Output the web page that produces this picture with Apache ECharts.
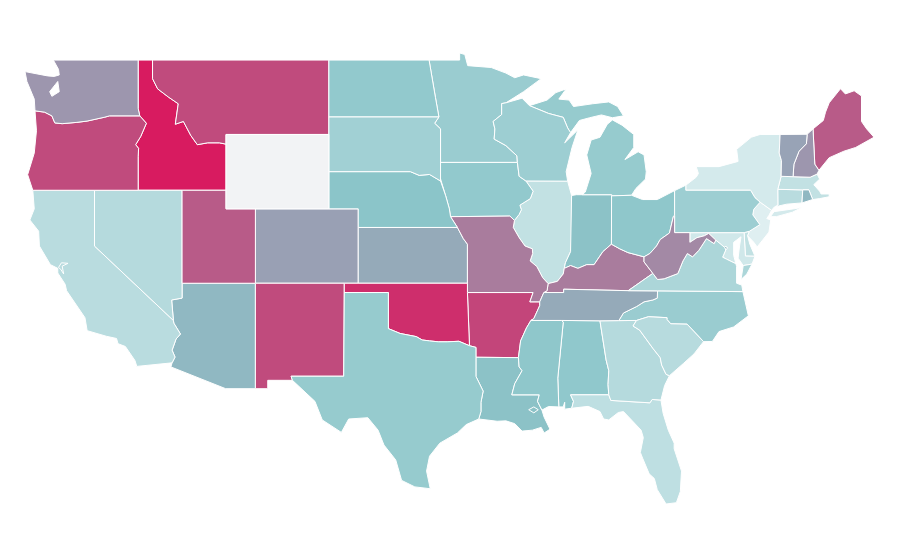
<!DOCTYPE html>
<html>
<head>
<meta charset="utf-8">
<title>US states</title>
<style>
html,body{margin:0;padding:0;background:#fff;}
#main{width:900px;height:560px;}
</style>
<script src="https://cdn.jsdelivr.net/npm/echarts@6/dist/echarts.min.js"></script>
</head>
<body>
<div id="main"></div>
<script>
var stateNames=["Alabama","Arizona","Arkansas","California","Colorado","Connecticut","Delaware","District of Columbia","Florida","Georgia","Idaho","Illinois","Indiana","Iowa","Kansas","Kentucky","Louisiana","Maine","Maryland","Massachusetts","Michigan","Minnesota","Mississippi","Missouri","Montana","Nebraska","Nevada","New Hampshire","New Jersey","New Mexico","New York","North Carolina","North Dakota","Ohio","Oklahoma","Oregon","Pennsylvania","Rhode Island","South Carolina","South Dakota","Tennessee","Texas","Utah","Vermont","Virginia","Washington","West Virginia","Wisconsin","Wyoming"];
var stateValues=[23.5,33,78,12.5,48,12.5,10,33,11,13.5,100,10,27,23,42,60,27,70,6,10,22,21,24,60,75,25,13.5,52,2,75,5,21,23,24,90,75,20,33,13,19,42,22,70,46,16,52,56,20,null];
var colorStops=['#e6f3f5','#8bc5c9','#9a9db2','#c04b7d','#d81b60'];

// shared borders, lon/lat
var msUpper=[[-92.29,46.66],[-92.29,46.07],[-92.87,45.7],[-92.75,45.3],[-92.8,44.75],[-92,44.4],[-91.25,43.85],[-91.22,43.5]];
var msIA=[[-91.22,43.5],[-91.1,42.75],[-90.64,42.5]];
var msIL=[[-90.64,42.5],[-90.15,41.95],[-90.34,41.55],[-91.05,41.2],[-90.95,40.95],[-91.1,40.7],[-91.42,40.38]];
var msMO=[[-91.42,40.38],[-91.5,40],[-91.1,39.45],[-90.7,39],[-90.2,38.85],[-90.18,38.6],[-90.35,38.2],[-89.9,37.9],[-89.5,37.3],[-89.13,36.98]];
var msKY=[[-89.13,36.98],[-89.2,36.6],[-89.42,36.5]];
var msTN=[[-89.42,36.5],[-89.7,36],[-89.7,35.8],[-90.1,35.1],[-90.3,35]];
var msAR=[[-90.3,35],[-90.6,34.6],[-91,33.9],[-91.15,33]];
var msLA=[[-91.15,33],[-91.1,32.5],[-90.9,32.3],[-91.4,31.6],[-91.6,31]];
var ohIL=[[-89.13,36.98],[-88.5,37.1],[-88.1,37.5],[-88.03,37.8]];
var wabash=[[-88.03,37.8],[-87.95,38.1],[-87.6,38.7],[-87.53,39.35]];
var ohIN=[[-88.03,37.8],[-87.6,37.95],[-87.1,37.8],[-86.5,38],[-86,38],[-85.4,38.7],[-84.82,39.1]];
var ohOH=[[-84.82,39.1],[-84.25,38.85],[-83.7,38.65],[-82.6,38.42]];
var ohWV=[[-82.6,38.42],[-82.2,38.6],[-81.75,39],[-81.5,39.35],[-80.87,39.7],[-80.6,40.6],[-80.52,40.64]];
var kyWV=[[-82.6,38.42],[-82.6,38.15],[-82,37.53]];
var vaWV=[[-82,37.53],[-81.68,37.2],[-81.23,37.24],[-80.3,37.52],[-79.95,38.2],[-79.65,38.6],[-79.3,38.42],[-78.87,38.77],[-78.35,39.4],[-77.83,39.13],[-77.72,39.32]];
var mdWV=[[-77.72,39.32],[-78.2,39.68],[-78.5,39.55],[-79,39.45],[-79.48,39.2],[-79.48,39.72]];
var tnKY=[[-83.68,36.6],[-88.07,36.68],[-88.07,36.5],[-89.42,36.5]];
var tnNC=[[-81.68,36.59],[-81.7,36.2],[-82,36.1],[-82.6,36],[-83.1,35.75],[-84,35.4],[-84.32,34.99]];
var ncSC=[[-83.11,35],[-82.3,35.2],[-81.04,35.15],[-81.04,35.05],[-80.78,34.82],[-79.67,34.8],[-78.55,33.86]];
var gaSC=[[-83.11,35],[-83.35,34.7],[-82.9,34.48],[-82,33.5],[-81.5,33],[-81.4,32.6],[-81.1,32.1],[-80.87,32.03]];
var gaFL=[[-81.45,30.72],[-82.05,30.75],[-82.2,30.57],[-84.86,30.7]];
var gaAL=[[-85.6,34.98],[-85.18,32.87],[-85,32.3],[-85.05,31.55],[-85,31]];
var alFL=[[-85,31],[-87.6,31],[-87.4,30.65],[-87.52,30.28]];
var alMS=[[-88.2,35],[-88.1,34.9],[-88.47,31.9],[-88.4,30.35]];
var redRiver=[[-94.48,33.64],[-95.2,33.88],[-96,33.85],[-96.6,33.85],[-97.2,33.9],[-97.7,33.95],[-98.1,34.13],[-99.2,34.3],[-100,34.56]];
var moRiver=[[-96.45,42.5],[-96.1,41.7],[-95.85,41],[-95.77,40.58],[-95.3,40]];
var snake=[[-116.92,46],[-116.47,45.6],[-116.85,44.9],[-117.2,44.45],[-117,44.25],[-117.03,43.8],[-117.03,42]];
var bitterroot=[[-116.05,49],[-116.05,48],[-115.7,47.45],[-114.95,47],[-114.3,46.65],[-114.5,45.55],[-113.95,45.7],[-113.45,44.95],[-113,44.45],[-112.3,44.55],[-111.5,44.55],[-111.05,44.48]];
var columbia=[[-123.4,46.2],[-122.9,46],[-122.7,45.62],[-122.2,45.58],[-121.2,45.65],[-120.5,45.72],[-119.3,45.93],[-118.98,46],[-116.92,46]];
var caAZ=[[-114.63,35],[-114.6,34.85],[-114.15,34.27],[-114.45,34],[-114.72,33.4],[-114.52,33.03],[-114.72,32.72]];
var upperMI=[[-90.4,46.55],[-89.1,46.13],[-88.1,45.92],[-87.8,45.35],[-87.6,45.1]];
var nyPA=[[-74.7,41.36],[-75.05,41.6],[-75.35,42],[-79.76,42]];
var njPA=[[-74.7,41.36],[-75.13,40.98],[-75.2,40.68],[-74.72,40.15],[-75.42,39.8]];
var vtNH=[[-71.5,45.01],[-71.55,44.5],[-72.05,44.1],[-72.4,43.4],[-72.46,42.73]];
var potomac=[[-76.35,38.05],[-77,38.3],[-77.25,38.4],[-77.04,38.79]];

function rev(a){return a.slice().reverse();}
function ring(){
  var pts=[];
  for(var i=0;i<arguments.length;i++){pts=pts.concat(arguments[i]);}
  pts.push(pts[0]);
  return pts;
}
var shapes={
  "Alabama":[[ring([[-88.2,35],[-85.6,34.98]],gaAL.slice(1),alFL.slice(1),[[-88,30.23],[-88,30.6],[-88.1,30.35]],rev(alMS))]],
  "Arizona":[[ring([[-114.04,37],[-109.05,37],[-109.05,31.33],[-111.07,31.33],[-114.8,32.5]],rev(caAZ),[[-114.75,36.1],[-114.04,36.2]])]],
  "Arkansas":[[ring([[-94.62,36.5],[-90.15,36.5],[-90.37,36]],msTN.slice(1),msAR.slice(1),[[-94.04,33.02],[-94.04,33.55],[-94.48,33.64]])]],
  "California":[[ring([[-124.2,42],[-120,42],[-120,39]],caAZ,[[-117.12,32.53],[-117.25,32.85],[-117.9,33.6],[-118.4,33.75],[-118.5,34.03],[-119.2,34.15],[-120.5,34.45],[-120.65,35.15],[-121.9,36.6],[-122,36.95],[-122.5,37.55],[-122.5,37.8],[-123,38],[-123.75,39],[-123.8,39.8],[-124.4,40.4],[-124.1,41]]),
    ring([[-122.45,37.85],[-122.25,38.1],[-121.8,38.07],[-122.2,37.92],[-122.1,37.5],[-122.3,37.75]])]],
  "Colorado":[[ring([[-109.05,41],[-102.05,41],[-102.05,37],[-109.05,37]])]],
  "Connecticut":[[ring([[-73.5,42.05],[-71.8,42.02],[-71.85,41.32],[-72.9,41.25],[-73.73,41.1],[-73.49,41.2]])]],
  "Delaware":[[ring([[-75.79,39.72],[-75.42,39.8],[-75.55,39.55],[-75.4,39.1],[-75.05,38.45],[-75.7,38.46]])]],
  "District of Columbia":[[ring([[-77.12,38.93],[-77.04,39],[-76.91,38.89],[-77.04,38.79]])]],
  "Florida":[[ring(gaFL,alFL,[[-86.4,30.38],[-85.6,30.1],[-85.35,29.7],[-85,29.65],[-84.35,30.05],[-84,30.1],[-83.4,29.6],[-82.8,29.1],[-82.65,28.7],[-82.85,27.9],[-82.7,27.6],[-82.25,26.75],[-81.9,26.5],[-81.7,25.9],[-81.1,25.13],[-80.4,25.2],[-80.13,25.8],[-80.05,26.9],[-80.55,28.1],[-80.55,28.4],[-80.95,29.1],[-81.3,30]])]],
  "Georgia":[[ring([[-85.6,34.98],[-84.32,34.99]],gaSC,[[-81.2,31.5]],gaFL,rev(gaAL).slice(0,4))]],
  "Idaho":[[ring([[-117.03,49]],bitterroot,[[-111.05,42]],rev(snake),[[-117.03,46.4]])]],
  "Illinois":[[ring([[-90.64,42.5],[-87.8,42.49],[-87.53,41.72]],rev(wabash),rev(ohIL).slice(1),rev(msMO).slice(1),rev(msIL).slice(1,6))]],
  "Indiana":[[ring([[-87.53,41.72],[-87.2,41.76],[-86.82,41.76],[-84.8,41.76]],rev(ohIN),wabash.slice(1,3))]],
  "Iowa":[[ring([[-96.45,43.5]],msIA,msIL.slice(1),[[-91.73,40.61]],rev(moRiver).slice(1,4),[[-96.6,43]])]],
  "Kansas":[[ring([[-102.05,40],[-95.3,40],[-94.9,39.4],[-94.62,39.1],[-94.62,37],[-102.05,37]])]],
  "Kentucky":[[ring(ohIL,ohIN.slice(1),ohOH.slice(1),kyWV.slice(1),tnKY,[[-89.2,36.6]])]],
  "Louisiana":[[ring([[-94.04,33.02]],msLA,[[-89.73,31],[-89.85,30.65],[-89.55,30.18],[-89.4,29.8],[-89,29.15],[-89.4,28.95],[-89.6,29.25],[-90.2,29.1],[-90.9,29.05],[-91.4,29.45],[-92,29.6],[-92.6,29.58],[-93.85,29.7],[-93.7,30.1],[-93.7,30.6],[-93.55,31.2],[-94.04,31.99]]),
    ring([[-90.45,30.2],[-90.1,30.35],[-89.8,30.2],[-90.1,30.03]])]],
  "Maine":[[ring([[-71.1,45.3],[-70.4,45.75],[-70.25,46.2],[-70,46.7],[-69.23,47.46],[-68.9,47.18],[-68.3,47.35],[-67.8,47.07],[-67.8,45.7],[-67.45,45.3],[-66.95,44.85],[-68.2,44.3],[-69,44.1],[-70,43.75],[-70.7,43.07],[-70.98,43.4]])]],
  "Maryland":[[ring([[-79.48,39.72],[-75.79,39.72],[-75.7,38.46],[-75.05,38.45],[-75.25,38.03],[-75.85,37.95],[-76.2,38.35],[-76.1,39],[-76,39.5],[-76.5,39.2],[-76.5,38.5]],potomac,[[-76.91,38.89],[-77.04,39],[-77.12,38.93]],mdWV.slice(0,5))]],
  "Massachusetts":[[ring([[-73.5,42.05],[-73.27,42.75],[-72.46,42.73],[-71.3,42.7],[-70.82,42.87],[-70.65,42.6],[-71.05,42.3],[-70.65,41.95],[-70.55,41.8],[-70,41.8],[-70,41.65],[-70.65,41.55],[-71.12,41.5],[-71.38,42.02],[-71.8,42.02]])]],
  "Michigan":[[ring(upperMI,[[-87,45.75],[-86.3,45.9],[-85.5,46.05],[-84.75,45.9],[-84,46],[-84.4,46.5],[-85,46.75],[-86.1,46.65],[-87.4,46.5],[-87.7,46.85],[-88.4,46.9],[-87.9,47.45],[-88.6,47.25],[-89.2,46.85]])],
    [ring([[-86.82,41.76],[-84.8,41.76],[-84.81,41.7],[-83.45,41.73],[-83.15,42.1],[-82.5,42.6],[-82.45,43],[-82.6,43.9],[-83,44.07],[-83.9,43.65],[-83.3,44.3],[-83.3,45],[-84.1,45.5],[-84.75,45.78],[-85.1,45.55],[-85.6,44.85],[-86.2,44.7],[-86.5,43.9],[-86.2,42.9],[-86.6,41.9]])]],
  "Minnesota":[[ring([[-97.23,49],[-95.15,49],[-95.15,49.38],[-94.8,49.3],[-94.6,48.7],[-93,48.6],[-92,48.3],[-91.4,48.05],[-90.8,48.2],[-89.6,48],[-90.8,47.3],[-92,46.7]],msUpper,[[-96.45,43.5],[-96.45,45.3],[-96.85,45.6],[-96.56,45.94],[-96.8,47]])]],
  "Mississippi":[[ring(msAR,msLA.slice(1),[[-89.73,31],[-89.85,30.65],[-89.55,30.18],[-89.1,30.37]],rev(alMS))]],
  "Missouri":[[ring([[-95.77,40.58],[-91.73,40.61]],msMO,msKY.slice(1),msTN.slice(1,2),[[-90.37,36],[-90.15,36.5],[-94.62,36.5],[-94.62,39.1],[-94.9,39.4],[-95.3,40]])]],
  "Montana":[[ring(bitterroot,[[-111.05,45],[-104.05,45],[-104.05,49]])]],
  "Nebraska":[[ring([[-104.05,43],[-98.5,43],[-97.9,42.8],[-97.2,42.85]],moRiver,[[-102.05,40],[-102.05,41],[-104.05,41]])]],
  "Nevada":[[ring([[-120,42],[-114.04,42],[-114.04,36.2],[-114.75,36.1],[-114.63,35],[-120,39]])]],
  "New Hampshire":[[ring(vtNH.slice(0,1),[[-71.1,45.3],[-70.98,43.4],[-70.7,43.07],[-70.82,42.87],[-71.3,42.7]],rev(vtNH).slice(0,4))]],
  "New Jersey":[[ring([[-74.7,41.36],[-73.92,40.92],[-74.1,40.65],[-74.25,40.48],[-73.98,40.4],[-74.1,39.75],[-74.9,38.95],[-75.13,39.2],[-75.55,39.55]],rev(njPA).slice(0,4))]],
  "New Mexico":[[ring([[-109.05,37],[-103,37],[-103.04,32],[-106.62,32],[-106.53,31.78],[-108.21,31.78],[-108.21,31.33],[-109.05,31.33]])]],
  "New York":[[ring([[-79.76,42.27],[-79.05,42.7],[-78.9,42.9],[-79.05,43.27],[-77.5,43.27],[-76.2,43.55],[-76.3,44.2],[-75.3,44.85],[-74.7,45],[-73.34,45],[-73.4,44],[-73.25,43.6],[-73.27,42.75],[-73.5,42.05],[-73.49,41.2],[-73.73,41.1],[-73.92,40.92]],nyPA)],
    [ring([[-74,40.58],[-73.75,40.85],[-72.6,40.98],[-71.87,41.07],[-72.5,40.82],[-73.6,40.58]])]],
  "North Carolina":[[ring(rev(tnNC),[[-75.87,36.55],[-75.5,35.25],[-76.5,34.65],[-77.5,34.4],[-77.95,33.87]],rev(ncSC))]],
  "North Dakota":[[ring([[-104.05,49],[-97.23,49],[-96.8,47],[-96.56,45.94],[-104.05,45.94]])]],
  "Ohio":[[ring([[-84.81,41.7],[-83.45,41.73],[-82.7,41.5],[-81.7,41.5],[-80.52,41.98]],rev(ohWV),rev(ohOH).slice(1))]],
  "Oklahoma":[[ring([[-103,37],[-94.62,37],[-94.62,36.5]],redRiver,[[-100,36.5],[-103,36.5]])]],
  "Oregon":[[ring(columbia,snake.slice(1),[[-124.2,42],[-124.55,42.84],[-124.1,44],[-123.95,45.2],[-124.05,46.27]])]],
  "Pennsylvania":[[ring([[-80.52,41.98],[-79.76,42.27]],rev(nyPA),njPA.slice(1),[[-75.79,39.72],[-79.48,39.72],[-80.52,39.72],[-80.52,40.64]])]],
  "Rhode Island":[[ring([[-71.8,42.02],[-71.38,42.02],[-71.12,41.5],[-71.85,41.32]])]],
  "South Carolina":[[ring(ncSC,[[-79.2,33.2],[-79.9,32.7]],rev(gaSC).slice(0,7))]],
  "South Dakota":[[ring([[-104.05,45.94],[-96.56,45.94],[-96.85,45.6],[-96.45,45.3],[-96.45,42.5],[-97.2,42.85],[-97.9,42.8],[-98.5,43],[-104.05,43]])]],
  "Tennessee":[[ring(tnKY,msTN.slice(1),[[-88.2,35],[-85.6,34.98]],rev(tnNC))]],
  "Texas":[[ring(redRiver,[[-100,36.5],[-103,36.5],[-103.04,32],[-106.62,32],[-106.53,31.78],[-105,30.65],[-104.5,29.65],[-103.2,28.98],[-102.7,29.7],[-101.4,29.77],[-100.7,29.1],[-100.3,28.3],[-99.5,27.5],[-99.1,26.4],[-98.2,26.05],[-97.15,25.95],[-97.4,26.9],[-97.2,27.7],[-96.5,28.4],[-95.3,28.95],[-94.7,29.4],[-93.85,29.7],[-93.7,30.1],[-93.7,30.6],[-93.55,31.2],[-94.04,31.99],[-94.04,33.02],[-94.04,33.55]])]],
  "Utah":[[ring([[-114.04,42],[-111.05,42],[-111.05,41],[-109.05,41],[-109.05,37],[-114.04,37]])]],
  "Vermont":[[ring([[-73.34,45]],vtNH,[[-73.27,42.75],[-73.25,43.6],[-73.4,44]])]],
  "Virginia":[[ring([[-83.68,36.6],[-81.68,36.59],[-75.87,36.55],[-75.95,36.9],[-76.3,37],[-76.3,37.9]],potomac,[[-77.12,38.93]],rev(vaWV))],
    [ring([[-75.25,38.03],[-75.85,37.95],[-76,37.2],[-75.6,37.5]])]],
  "Washington":[[ring([[-117.03,49],[-122.8,49],[-122.45,48.5],[-122.4,48.2],[-122.75,48.12],[-123.2,48.15],[-124.73,48.38],[-124.6,47.85],[-124.1,46.9],[-124.05,46.27]],columbia,[[-117.03,46.4]]),
    ring([[-122.5,47.85],[-122.4,47.3],[-122.9,47.05],[-123.05,47.3],[-122.65,47.7]])]],
  "West Virginia":[[ring(ohWV,[[-80.52,39.72],[-79.48,39.72]],rev(mdWV).slice(1),rev(vaWV).slice(1),rev(kyWV).slice(1,2))]],
  "Wisconsin":[[ring(msUpper.slice(0,1),[[-92,46.7],[-90.9,46.95]],upperMI,[[-88,44.55],[-87.1,45.25],[-87.5,44.3],[-87.9,43],[-87.8,42.49]],rev(msIA),rev(msUpper).slice(1,7))]],
  "Wyoming":[[ring([[-111.05,45],[-104.05,45],[-104.05,41],[-111.05,41]])]]
};

var features=[];
for(var i=0;i<stateNames.length;i++){
  features.push({type:"Feature",properties:{name:stateNames[i]},geometry:{type:"MultiPolygon",coordinates:shapes[stateNames[i]]}});
}
echarts.registerMap("usa",{type:"FeatureCollection",features:features});

var seriesData=[];
for(var j=0;j<stateNames.length;j++){
  seriesData.push({name:stateNames[j],value:stateValues[j]});
}
var myChart=echarts.init(document.getElementById("main"));
myChart.setOption({
  animation:false,
  backgroundColor:"#fff",
  visualMap:{show:false,min:0,max:100,inRange:{color:colorStops}},
  series:[{
    type:"map",
    map:"usa",
    roam:false,
    left:25,
    top:53,
    width:849,
    height:451,
    aspectScale:0.79,
    label:{show:false},
    itemStyle:{areaColor:"#f2f3f5",borderColor:"#fff",borderWidth:1},
    emphasis:{disabled:true},
    select:{disabled:true},
    data:seriesData
  }]
});
</script>
</body>
</html>
